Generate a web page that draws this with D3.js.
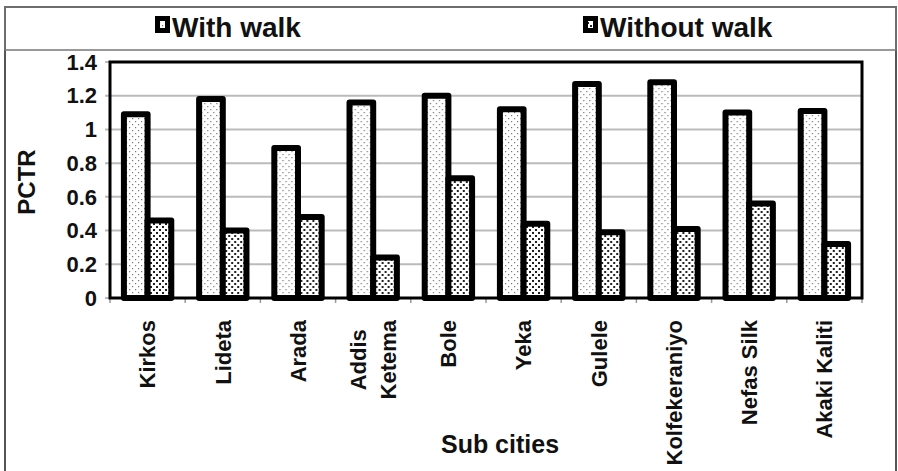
<!DOCTYPE html>
<html>
<head>
<style>
    body { margin: 0; background: #fff; }
    text { font-family: "Liberation Sans", Arial, sans-serif; font-weight: bold; fill: #111; }
</style>
<script src="https://cdn.jsdelivr.net/npm/d3@7"></script>
</head>
<body>
<svg id="chart" width="898" height="471"></svg>
<script>
var cities = ["Kirkos", "Lideta", "Arada", "Addis\nKetema", "Bole", "Yeka", "Gulele", "Kolfekeraniyo", "Nefas Silk", "Akaki Kaliti"];
var seriesNames = ["With walk", "Without walk"];
var withWalk = [1.09, 1.18, 0.89, 1.16, 1.20, 1.12, 1.27, 1.28, 1.10, 1.11];
var withoutWalk = [0.46, 0.40, 0.48, 0.24, 0.71, 0.44, 0.39, 0.41, 0.56, 0.32];
var yTicks = [0, 0.2, 0.4, 0.6, 0.8, 1, 1.2, 1.4];

var svg = d3.select("#chart");
var plotLeft = 110, plotRight = 862, plotTop = 62, plotBottom = 298;

// patterns for the two series
var defs = svg.append("defs");
var p1 = defs.append("pattern").attr("id", "dotsLight")
    .attr("width", 6).attr("height", 6).attr("patternUnits", "userSpaceOnUse");
p1.append("rect").attr("width", 6).attr("height", 6).attr("fill", "#fff");
p1.append("rect").attr("x", 1).attr("y", 1).attr("width", 1.2).attr("height", 1.2).attr("fill", "#777");
p1.append("rect").attr("x", 4).attr("y", 4).attr("width", 1.2).attr("height", 1.2).attr("fill", "#777");

var p2 = defs.append("pattern").attr("id", "dotsDark")
    .attr("width", 6).attr("height", 6).attr("patternUnits", "userSpaceOnUse");
p2.append("rect").attr("width", 6).attr("height", 6).attr("fill", "#fff");
p2.append("rect").attr("x", 1).attr("y", 1).attr("width", 2).attr("height", 2).attr("fill", "#222");
p2.append("rect").attr("x", 4).attr("y", 4).attr("width", 2).attr("height", 2).attr("fill", "#222");

var fills = ["url(#dotsLight)", "url(#dotsDark)"];

// outer frame and legend box
svg.append("rect").attr("x", 5).attr("y", 7).attr("width", 891).attr("height", 480)
    .attr("fill", "none").attr("stroke", "#555").attr("stroke-width", 2);
svg.append("rect").attr("x", 5).attr("y", 7).attr("width", 891).attr("height", 43)
    .attr("fill", "none").attr("stroke", "#777").attr("stroke-width", 1.5);

var legendX = [155, 583];
var leg = svg.selectAll(".leg").data(seriesNames).join("g").attr("class", "leg")
    .attr("transform", function(d, i) { return "translate(" + legendX[i] + ",0)"; });
leg.append("rect").attr("x", 2.5).attr("y", 18.5).attr("width", 10).attr("height", 12)
    .attr("fill", function(d, i) { return fills[i]; })
    .attr("stroke", "#000").attr("stroke-width", 5);
leg.append("text").attr("x", 17).attr("y", 37).attr("font-size", "28px").text(function(d) { return d; });

// scales
var x0 = d3.scaleBand().domain(cities).range([plotLeft, plotRight]);
var groupW = x0.bandwidth() * 0.63;
var x1 = d3.scaleBand().domain(seriesNames)
    .range([(x0.bandwidth() - groupW) / 2, (x0.bandwidth() + groupW) / 2]);
var y = d3.scaleLinear().domain([0, 1.4]).range([plotBottom, plotTop]);

// gridlines
svg.append("g").selectAll("line").data(yTicks).join("line")
    .attr("x1", plotLeft - 5).attr("x2", plotRight)
    .attr("y1", function(d) { return y(d); }).attr("y2", function(d) { return y(d); })
    .attr("stroke", "#bbb").attr("stroke-width", 2);

svg.append("g").selectAll("text").data(yTicks).join("text")
    .attr("x", 97).attr("y", function(d) { return y(d); })
    .attr("dy", "0.35em").attr("text-anchor", "end").attr("font-size", "22px")
    .text(function(d) { return d; });

// category tick marks
var bounds = cities.map(function(c) { return x0(c); }).concat([plotRight]);
svg.append("g").selectAll("line").data(bounds).join("line")
    .attr("x1", function(d) { return d; }).attr("x2", function(d) { return d; })
    .attr("y1", plotBottom).attr("y2", plotBottom + 5)
    .attr("stroke", "#999").attr("stroke-width", 1.5);

// bars
var rows = cities.map(function(c, i) { return { city: c, vals: [withWalk[i], withoutWalk[i]] }; });
var groups = svg.append("g").selectAll("g").data(rows).join("g")
    .attr("transform", function(d) { return "translate(" + x0(d.city) + ",0)"; });
groups.selectAll("rect")
    .data(function(d) { return d.vals.map(function(v, i) { return { s: seriesNames[i], v: v, i: i }; }); })
    .join("rect")
    .attr("x", function(d) { return x1(d.s); })
    .attr("y", function(d) { return y(d.v); })
    .attr("width", x1.bandwidth())
    .attr("height", function(d) { return plotBottom - y(d.v); })
    .attr("fill", function(d) { return fills[d.i]; })
    .attr("stroke", "#000").attr("stroke-width", 6).attr("stroke-linejoin", "round");

// plot frame
svg.append("rect").attr("x", plotLeft).attr("y", plotTop)
    .attr("width", plotRight - plotLeft).attr("height", plotBottom - plotTop)
    .attr("fill", "none").attr("stroke", "#000").attr("stroke-width", 3);

// category labels, rotated
var labels = svg.append("g").selectAll("text").data(cities).join("text")
    .attr("font-size", "22px")
    .attr("transform", function(d) { return "translate(" + (x0(d) + x0.bandwidth() / 2) + ",0) rotate(-90)"; });
labels.each(function(d) {
    var t = d3.select(this);
    var lines = d.split("\n");
    var spans = lines.map(function(l, i) {
        return t.append("tspan").attr("y", (i - (lines.length - 1) / 2) * 30).attr("dy", "0.35em").text(l);
    });
    if (lines.length == 1) {
        spans[0].attr("x", -320).attr("text-anchor", "end");
    } else {
        var L = d3.max(spans, function(s) { return s.node().getComputedTextLength(); });
        spans.forEach(function(s) { s.attr("x", -(320 + L / 2)).attr("text-anchor", "middle"); });
    }
});

// axis titles
svg.append("text").attr("transform", "translate(35,182) rotate(-90)")
    .attr("text-anchor", "middle").attr("font-size", "24px").text("PCTR");
svg.append("text").attr("x", 500).attr("y", 453)
    .attr("text-anchor", "middle").attr("font-size", "25px").text("Sub cities");
</script>
</body>
</html>
